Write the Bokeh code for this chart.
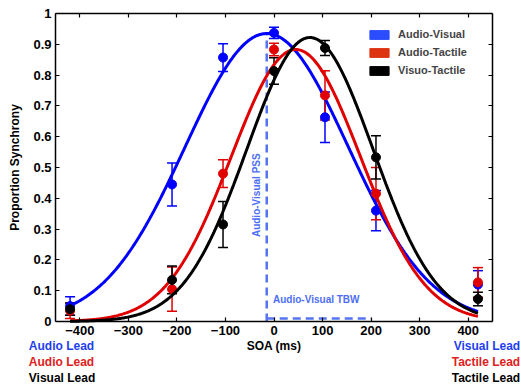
import numpy as np
from bokeh.plotting import figure
from bokeh.core.properties import value
from bokeh.models import (Range1d, FixedTicker, CustomJSTickFormatter, LinearAxis, Whisker,
                          TeeHead, ColumnDataSource, Legend, LegendItem, Label)
from bokeh.embed import file_html
from bokeh.resources import INLINE

# ---------------- data ----------------
soa = [-420, -210, -105, 0, 105, 210, 420]

av_mean = [0.05, 0.445, 0.857, 0.937, 0.663, 0.36, 0.12]
av_err = [0.03, 0.07, 0.045, 0.018, 0.082, 0.065, 0.045]
at_mean = [0.035, 0.105, 0.48, 0.883, 0.734, 0.415, 0.127]
at_err = [0.025, 0.072, 0.045, 0.02, 0.08, 0.085, 0.048]
vt_mean = [0.04, 0.135, 0.315, 0.813, 0.888, 0.533, 0.073]
vt_err = [0.02, 0.045, 0.075, 0.043, 0.024, 0.07, 0.022]

# Gaussian fit parameters (amplitude, mean, sd)
fit_amp = {"av": 0.935, "at": 0.883, "vt": 0.922}
fit_mu = {"av": -15, "at": 45, "vt": 74}
fit_sd = {"av": 168, "at": 133, "vt": 130}
fit_x = np.linspace(-420, 420, 400)

pss = -15          # audio-visual point of subjective simultaneity
tbw_end = 200      # right edge of audio-visual temporal binding window

x_ticks = [-400, -300, -200, -100, 0, 100, 200, 300, 400]
y_ticks = [0, 0.1, 0.2, 0.3, 0.4, 0.5, 0.6, 0.7, 0.8, 0.9, 1]
x_lim = (-450, 450)
y_lim = (0, 1)

series = [
    ("av", "Audio-Visual", av_mean, av_err, "#0000ff", "#2a4dff"),
    ("at", "Audio-Tactile", at_mean, at_err, "#e00000", "#dd3311"),
    ("vt", "Visuo-Tactile", vt_mean, vt_err, "#000000", "#000000"),
]

lead_left = [("Audio Lead", "#1f3ef0"), ("Audio Lead", "#e02020"), ("Visual Lead", "black")]
lead_right = [("Visual Lead", "#1f3ef0"), ("Tactile Lead", "#e02020"), ("Tactile Lead", "black")]

FONT = "Liberation Sans"

# the frame covers the whole canvas; the axes box is drawn by axes fixed at the data limits
p = figure(width=521, height=387, output_backend="svg", toolbar_location=None,
           x_range=Range1d(-563.3, 509.7), y_range=Range1d(-0.2143, 1.0422),
           min_border=0)
p.grid.visible = False
p.outline_line_color = None

fmt_x = CustomJSTickFormatter(code="return tick < 0 ? '\\u2212' + Math.abs(tick) : String(tick);")
fmt_y = CustomJSTickFormatter(code="return tick == 0 ? '0' : (tick == 1 ? '1' : tick.toFixed(1));")

xa, ya = p.xaxis[0], p.yaxis[0]
xa.fixed_location = y_lim[0]
xa.bounds = x_lim
ya.fixed_location = x_lim[0]
ya.bounds = y_lim
for ax, tk, fm in ((xa, x_ticks, fmt_x), (ya, y_ticks, fmt_y)):
    ax.ticker = FixedTicker(ticks=tk)
    ax.formatter = fm
    ax.major_tick_in = 4
    ax.major_tick_out = 0
    ax.minor_tick_line_color = None
    ax.axis_line_width = 1.5
    ax.major_tick_line_width = 1.2
    ax.major_label_text_font = FONT
    ax.major_label_text_font_style = "bold"
    ax.major_label_text_font_size = "13px"
    ax.major_label_text_color = "black"
    ax.axis_label_text_font = FONT
    ax.axis_label_text_font_style = "bold"
    ax.axis_label_text_font_size = "12px"
    ax.axis_label_text_color = "black"
xa.axis_label = "SOA (ms)"
ya.axis_label = "Proportion Synchrony"
xa.major_label_standoff = 5
xa.axis_label_standoff = 0
ya.major_label_standoff = 4
ya.axis_label_standoff = 8

for loc, tk, fixed, bnd in (("above", x_ticks, y_lim[1], x_lim), ("right", y_ticks, x_lim[1], y_lim)):
    ax = LinearAxis(ticker=FixedTicker(ticks=tk), fixed_location=fixed, bounds=bnd,
                    formatter=CustomJSTickFormatter(code="return '';"),
                    major_tick_in=4, major_tick_out=0, minor_tick_line_color=None,
                    axis_line_width=1.5, major_tick_line_width=1.2,
                    major_label_text_font_size="0px", major_label_standoff=0)
    p.add_layout(ax, loc)

# PSS / TBW markers
p.line([pss, pss], [0, fit_amp["av"]], line_color="#5574f2", line_width=2.5, line_dash="8 5")
p.line([pss, tbw_end], [0.01, 0.01], line_color="#5574f2", line_width=2.5, line_dash="8 5")
p.text(x=[pss - 22], y=[0.41], text=["Audio-Visual PSS"], angle=np.pi / 2,
       text_align="center", text_baseline="middle", text_color="#4d6ef5",
       text_font=value(FONT), text_font_style="bold", text_font_size="10px")
p.text(x=[pss + 13], y=[0.071], text=["Audio-Visual TBW"],
       text_align="left", text_baseline="middle", text_color="#4d6ef5",
       text_font=value(FONT), text_font_style="bold", text_font_size="10px")

legend_items = []
for key, name, mean, err, col, patch in series:
    amp, mu, sd = fit_amp[key], fit_mu[key], fit_sd[key]
    fy = amp * np.exp(-(fit_x - mu) ** 2 / (2 * sd ** 2))
    p.line(fit_x, fy, line_color=col, line_width=3)
    src = ColumnDataSource(dict(x=soa, y=mean,
                                lo=[m - e for m, e in zip(mean, err)],
                                hi=[m + e for m, e in zip(mean, err)]))
    w = Whisker(source=src, base="x", upper="hi", lower="lo", line_color=col, line_width=1.5,
                upper_head=TeeHead(size=10, line_color=col, line_width=1.5),
                lower_head=TeeHead(size=10, line_color=col, line_width=1.5))
    p.add_layout(w)
    p.scatter("x", "y", source=src, size=9, fill_color=col, line_color=col)
    # legend swatch renderer (placed outside the visible range)
    dummy = p.quad(left=[2000], right=[2001], top=[5], bottom=[4], fill_color=patch, line_color=patch)
    legend_items.append(LegendItem(label=name, renderers=[dummy]))

legend = Legend(items=legend_items, location=(367, 311), glyph_width=24, glyph_height=11,
                label_height=11, spacing=6, padding=0, margin=0, label_standoff=7,
                border_line_color=None, background_fill_alpha=0,
                label_text_font=FONT, label_text_font_style="bold", label_text_font_size="11px")
p.add_layout(legend)

lead_y = [-0.078, -0.13, -0.185]
for (t, c), yy in zip(lead_left, lead_y):
    p.add_layout(Label(x=-505, y=yy, text=t, text_color=c, text_align="left", text_baseline="middle",
                       text_font=FONT, text_font_style="bold", text_font_size="12px"))
for (t, c), yy in zip(lead_right, lead_y):
    p.add_layout(Label(x=507, y=yy, text=t, text_color=c, text_align="right", text_baseline="middle",
                       text_font=FONT, text_font_style="bold", text_font_size="12px"))

open("out.html", "w").write(file_html(p, INLINE))
